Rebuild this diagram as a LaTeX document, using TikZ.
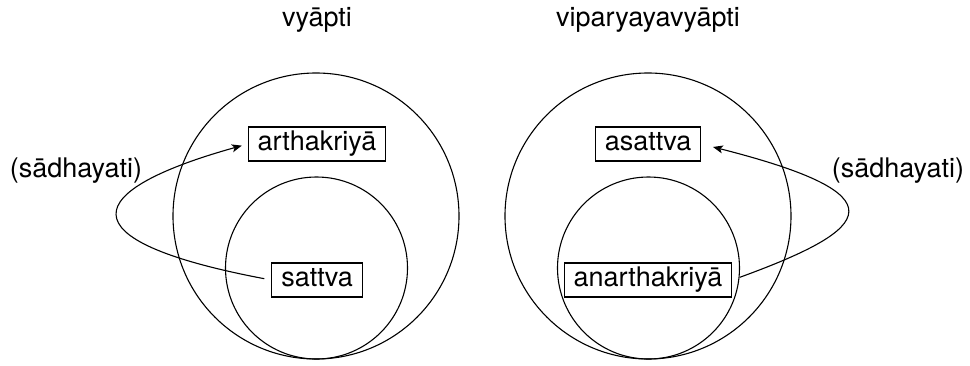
\documentclass[tikz,border=0pt]{standalone}
\usepackage{fontspec}
\setmainfont{TeX Gyre Heros}
\usetikzlibrary{arrows.meta}
\begin{document}
\begin{tikzpicture}[x=1pt,y=-1pt,
  every node/.style={font=\fontsize{27}{32}\selectfont},
  ring/.style={circle,draw,line width=1.1pt,inner sep=0pt},
  termbox/.style={draw,line width=1.1pt,inner xsep=9.5pt,inner ysep=4.4pt,text height=19.5pt,text depth=5.7pt},
  label/.style={anchor=base,inner sep=0pt},
  link/.style={line width=1.1pt,-{Stealth[length=10pt,width=8pt,inset=2.5pt]}}]
\useasboundingbox (0,0) rectangle (970,365);
% left diagram
\node[label] (t1) at (317,26) {vyāpti};
\node[ring,minimum size=286pt] (big1) at (316,216) {};
\node[ring,minimum size=182pt] (small1) at (316.5,268) {};
\node[termbox] (arth) at (317,144) {arthakriyā};
\node[termbox] (satt) at (317,280) {sattva};
\node[label] (s1) at (76,177) {(sādhayati)};
\draw[link,shorten <=7pt,shorten >=6pt] (satt.west) .. controls (60,240) and (83,190) .. (arth.west);
% right diagram
\node[label] (t2) at (648,26) {viparyayavyāpti};
\node[ring,minimum size=286pt] (big2) at (648,216) {};
\node[ring,minimum size=182pt] (small2) at (648.5,268) {};
\node[termbox] (asatt) at (648,144) {asattva};
\node[termbox] (anarth) at (648,280) {anarthakriyā};
\node[label] (s2) at (898,177) {(sādhayati)};
\draw[link,shorten <=8pt,shorten >=12pt] (anarth.east) .. controls (875,228) and (902,195) .. (asatt.east);
\end{tikzpicture}
\end{document}
